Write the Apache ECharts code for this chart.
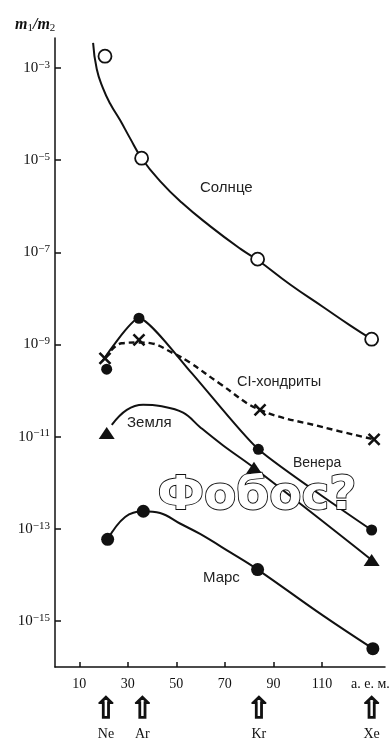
<!DOCTYPE html>
<html>
<head>
<meta charset="utf-8">
<script src="https://cdn.jsdelivr.net/npm/echarts@6/dist/echarts.min.js"></script>
<style>
  html, body { margin: 0; padding: 0; background: #fff; }
  #chart { width: 391px; height: 739px; }
</style>
</head>
<body>
<div id="chart"></div>
<script>
// Noble gas abundances m1/m2 versus atomic mass (log scale).
const elementNames = ['Ne', 'Ar', 'Kr', 'Xe'];
const elementMass = [21, 36, 84, 130.5];

// Measured points (atomic mass, ratio)
const sunX = [20.6, 35.7, 83.5, 130.5];
const sunY = [1.8e-3, 1.1e-5, 7.1e-8, 1.3e-9];
const ciX = [20.6, 34.6, 84.5, 131.5];
const ciY = [5.0e-10, 1.26e-9, 3.8e-11, 8.7e-12];
const venusX = [21.3, 34.6, 83.8, 130.5];
const venusY = [2.9e-10, 3.7e-9, 5.3e-12, 9.4e-14];
const earthX = [21.3, 82.0, 130.5];
const earthY = [1.2e-11, 2.1e-12, 2.1e-14];
const marsX = [21.7, 36.4, 83.5, 131];
const marsY = [5.9e-14, 2.4e-13, 1.3e-14, 2.5e-16];

// Trend curves drawn through each data set
const sunCurveX = [15.7, 17.2, 19.8, 22.7, 26.8, 30.9, 35.7, 43.3, 52.2, 63.9, 76.3, 83.5, 96.9, 110.5, 121.6, 130.5];
const sunCurveY = [3.5e-3, 9.5e-4, 3.6e-4, 1.7e-4, 7.4e-5, 3.0e-5, 1.1e-5, 3.5e-6, 1.2e-6, 3.7e-7, 1.2e-7, 6.8e-8, 2.0e-8, 6.5e-9, 2.6e-9, 1.3e-9];
const ciCurveX = [20.6, 27.5, 34.6, 39.2, 48.6, 55.7, 68.0, 84.5, 110.5, 131.5];
const ciCurveY = [5.0e-10, 1.06e-9, 1.1e-9, 1.07e-9, 6.5e-10, 4.0e-10, 1.4e-10, 3.8e-11, 1.6e-11, 8.7e-12];
const venusCurveX = [19.3, 34.6, 55.7, 83.8, 130.5];
const venusCurveY = [4.2e-10, 3.7e-9, 2.6e-10, 5.3e-12, 9.4e-14];
const earthCurveX = [23.4, 29.6, 36.3, 43.3, 52.8, 59.8, 69.3, 82.0, 130.5];
const earthCurveY = [1.8e-11, 3.8e-11, 4.9e-11, 4.6e-11, 3.3e-11, 1.6e-11, 6.4e-12, 2.1e-12, 2.1e-14];
const marsCurveX = [21.7, 28.9, 36.4, 43.3, 51.5, 59.8, 72.1, 83.5, 110.5, 131];
const marsCurveY = [5.9e-14, 1.8e-13, 2.4e-13, 2.2e-13, 1.3e-13, 7.7e-14, 3.1e-14, 1.3e-14, 1.3e-15, 2.5e-16];

// Axis ticks: x in atomic mass units, y as decimal exponents
const xTicks = [10, 30, 50, 70, 90, 110];
const xLabels = [10, 30, 50, 70, 90, 110, 130];
const unitLabel = 'а. е. м.';
const yExponents = [-15, -13, -11, -9, -7, -5, -3];

const pairs = (xs, ys) => xs.map((x, i) => [x, Math.log10(ys[i])]);

const SERIF = '"Liberation Serif", "DejaVu Serif", serif';
const SANS = '"Liberation Sans", Arial, sans-serif';
const INK = '#111';

const curve = (name, xs, ys, opts) => ({
  name: name + ' (кривая)',
  type: 'line',
  data: pairs(xs, ys),
  smooth: opts.smooth,
  showSymbol: false,
  silent: true,
  z: 2,
  lineStyle: { color: INK, width: opts.dashed ? 2.4 : 2, type: opts.dashed ? [6, 4] : 'solid' }
});

const points = (name, xs, ys, symbol, size, style) => ({
  name: name,
  type: 'scatter',
  data: pairs(xs, ys),
  symbol: symbol,
  symbolSize: size,
  silent: true,
  z: 4,
  itemStyle: Object.assign({ opacity: 1 }, style)
});

const chart = echarts.init(document.getElementById('chart'), null, { renderer: 'canvas' });

chart.setOption({
  animation: false,
  backgroundColor: '#fff',
  grid: { left: 55, right: 6, top: 38, bottom: 72, outerBoundsMode: 'none', containLabel: false },
  xAxis: [
    {
      type: 'value', min: 0, max: 136,
      axisLine: { lineStyle: { color: INK, width: 1.5 } },
      axisTick: { inside: true, length: 5, customValues: xTicks, lineStyle: { color: INK, width: 1.5 } },
      splitLine: { show: false },
      axisLabel: {
        customValues: xLabels, margin: 10,
        fontFamily: SERIF, fontSize: 14, color: INK,
        formatter: v => (v === 130 ? unitLabel : String(v))
      }
    },
    {
      type: 'value', min: 0, max: 136, position: 'bottom', offset: 30,
      axisLine: { show: false }, axisTick: { show: false }, splitLine: { show: false },
      axisLabel: {
        customValues: elementMass, margin: 0,
        formatter: v => '{a|⇧}\n{e|' + elementNames[elementMass.indexOf(v)] + '}',
        rich: {
          a: { fontFamily: '"DejaVu Sans"', fontSize: 29, lineHeight: 26, color: INK, textBorderColor: INK, textBorderWidth: 1.4 },
          e: { fontFamily: SERIF, fontSize: 14, lineHeight: 22, color: INK }
        }
      }
    }
  ],
  yAxis: {
    type: 'value', min: -16, max: -2.35,
    axisLine: { lineStyle: { color: INK, width: 1.5 } },
    axisTick: { inside: true, length: 6, customValues: yExponents, lineStyle: { color: INK, width: 1.5 } },
    splitLine: { show: false },
    axisLabel: {
      customValues: yExponents, margin: 5,
      formatter: v => '{b|10}{e|−' + Math.abs(v) + '}',
      rich: {
        b: { fontFamily: SERIF, fontSize: 15, lineHeight: 17, color: INK },
        e: { fontFamily: SERIF, fontSize: 11, lineHeight: 11, verticalAlign: 'top', color: INK }
      }
    }
  },
  series: [
    curve('Солнце', sunCurveX, sunCurveY, { smooth: 0.5 }),
    curve('CI-хондриты', ciCurveX, ciCurveY, { smooth: 0.4, dashed: true }),
    curve('Венера', venusCurveX, venusCurveY, { smooth: 0.2 }),
    curve('Земля', earthCurveX, earthCurveY, { smooth: 0.4 }),
    curve('Марс', marsCurveX, marsCurveY, { smooth: 0.4 }),
    points('Солнце', sunX, sunY, 'circle', 13, { color: '#fff', borderColor: INK, borderWidth: 1.8 }),
    points('CI-хондриты', ciX, ciY, 'path://M0,0L10,10M10,0L0,10', 11, { color: INK, borderColor: INK, borderWidth: 2.6 }),
    points('Венера', venusX, venusY, 'circle', 11, { color: INK }),
    points('Земля', earthX, earthY, 'triangle', [16, 12], { color: INK }),
    points('Марс', marsX, marsY, 'circle', 13, { color: INK })
  ],
  graphic: [
    {
      type: 'text', x: 15, y: 25, z: 10,
      style: {
        text: '{i|m}{s|1}{i|/m}{s|2}', verticalAlign: 'middle',
        rich: {
          i: { fontFamily: SERIF, fontStyle: 'italic', fontWeight: 'bold', fontSize: 16, lineHeight: 18, fill: INK },
          s: { fontFamily: SERIF, fontSize: 11, lineHeight: 10, verticalAlign: 'bottom', fill: INK }
        }
      }
    },
    { type: 'text', x: 200, y: 188, z: 10, style: { text: 'Солнце', fontFamily: SANS, fontSize: 15, fill: '#222', verticalAlign: 'middle' } },
    { type: 'text', x: 237, y: 382, z: 10, style: { text: 'CI-хондриты', fontFamily: SANS, fontSize: 14.5, fill: '#222', verticalAlign: 'middle' } },
    { type: 'text', x: 127, y: 423, z: 10, style: { text: 'Земля', fontFamily: SANS, fontSize: 15, fill: '#222', verticalAlign: 'middle' } },
    { type: 'text', x: 293, y: 463, z: 10, style: { text: 'Венера', fontFamily: SANS, fontSize: 14, fill: '#222', verticalAlign: 'middle' } },
    { type: 'text', x: 203, y: 578, z: 10, style: { text: 'Марс', fontFamily: SANS, fontSize: 15, fill: '#222', verticalAlign: 'middle' } },
    {
      type: 'text', x: 257, y: 497, z: 20,
      style: {
        text: 'Фобос?', fontFamily: '"DejaVu Sans"', fontWeight: 'bold', fontSize: 47,
        fill: '#fff', stroke: INK, lineWidth: 1.8,
        align: 'center', verticalAlign: 'middle'
      }
    }
  ]
});
</script>
</body>
</html>
